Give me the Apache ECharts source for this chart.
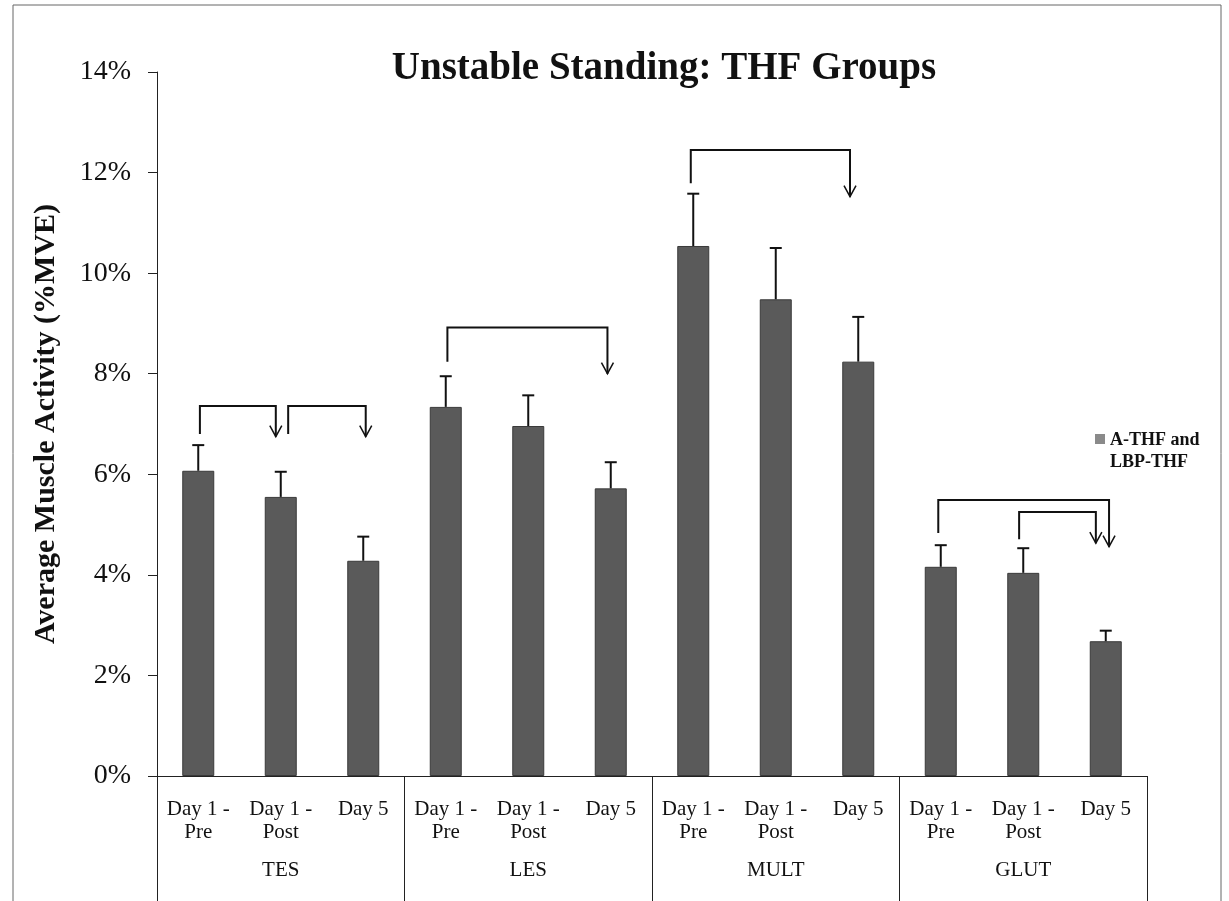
<!DOCTYPE html>
<html>
<head>
<meta charset="utf-8">
<script src="https://cdn.jsdelivr.net/npm/echarts@6/dist/echarts.min.js"></script>
<style>
html,body{margin:0;padding:0;background:#fff;}
#c{width:1229px;height:901px;}
</style>
</head>
<body>
<div id="c"></div>
<script>
// ---- data ----
const categories = ['Day 1 -\nPre','Day 1 -\nPost','Day 5','Day 1 -\nPre','Day 1 -\nPost','Day 5','Day 1 -\nPre','Day 1 -\nPost','Day 5','Day 1 -\nPre','Day 1 -\nPost','Day 5'];
const groups = ['TES','LES','MULT','GLUT'];
const values = [6.07,5.55,4.28, 7.34,6.96,5.72, 10.54,9.48,8.24, 4.16,4.04,2.68];
const errors = [0.51,0.50,0.48, 0.61,0.61,0.52, 1.04,1.02,0.89, 0.43,0.49,0.21];
const yTicks = [0,2,4,6,8,10,12,14];
// significance brackets: [fromCategory, toCategory, topLevel%, leftEnd%, arrowTip%]
const brackets = [
  [0.02, 0.94, 7.36, 6.80, 6.75],
  [1.09, 2.03, 7.36, 6.80, 6.75],
  [3.02, 4.96, 8.92, 8.24, 8.00],
  [5.97, 7.90, 12.45, 11.79, 11.52],
  [8.97, 11.04, 5.49, 4.83, 4.56],
  [9.95, 10.88, 5.25, 4.71, 4.63]
];
const seriesName = 'A-THF and\nLBP-THF';

const serif = '"Liberation Serif","Times New Roman",serif';
const chart = echarts.init(document.getElementById('c'));

const errData = values.map((v,i)=>[i, v, errors[i]]);

chart.setOption({
  animation:false,
  backgroundColor:'#fff',
  title:{
    text:'Unstable Standing: THF Groups',
    left:659, textAlign:'center', top:44,
    textStyle:{fontFamily:serif, fontWeight:'bold', fontSize:39, color:'#111'}
  },
  legend:{
    left:1090, top:424, orient:'vertical',
    itemWidth:10, itemHeight:34, itemGap:0,
    icon:'path://M0,0h10v10h-10z M0,33.97h0.03v0.03h-0.03z',
    data:[{name:seriesName, itemStyle:{color:'#8a8a8a', borderWidth:0, borderColor:'transparent'}}],
    itemStyle:{borderWidth:0},
    textStyle:{fontFamily:serif, fontWeight:'bold', fontSize:18, color:'#111', lineHeight:22},
    selectedMode:false
  },
  grid:{left:157, right:82, top:72, bottom:125, containLabel:false},
  xAxis:[
    {
      type:'category', data:categories, position:'bottom',
      axisLine:{show:true, onZero:false, lineStyle:{color:'#222', width:1}},
      axisTick:{show:false},
      axisLabel:{interval:0, margin:22, fontFamily:serif, fontSize:21, color:'#111', lineHeight:23}
    },
    {
      type:'category', data:groups, position:'bottom',
      axisLine:{show:false, onZero:false},
      axisTick:{show:true, length:130, lineStyle:{color:'#222', width:1}},
      axisLabel:{interval:0, margin:84, fontFamily:serif, fontSize:21, color:'#111'}
    },
    {
      type:'value', min:-0.5, max:11.5, show:false
    }
  ],
  yAxis:{
    type:'value', min:0, max:14, interval:2,
    name:'Average Muscle Activity (%MVE)', nameLocation:'middle', nameGap:96,
    nameTextStyle:{fontFamily:serif, fontWeight:'bold', fontSize:30, color:'#111'},
    axisLine:{show:true, onZero:false, lineStyle:{color:'#222', width:1}},
    axisTick:{show:true, length:9, lineStyle:{color:'#222'}},
    splitLine:{show:false},
    axisLabel:{margin:26, fontFamily:serif, fontSize:28, color:'#111',
      formatter:(v)=> yTicks.indexOf(v)>=0 ? v+'%' : ''}
  },
  series:[
    {
      name:seriesName, type:'bar', data:values, barWidth:32, xAxisIndex:0,
      itemStyle:{color:'#5a5a5a', borderColor:'#3a3a3a', borderWidth:1}
    },
    {
      type:'custom', xAxisIndex:0, data:errData, z:5, silent:true,
      encode:{x:0, y:[1,2]},
      renderItem:(params, api)=>{
        const i = api.value(0), v = api.value(1), e = api.value(2);
        const p0 = api.coord([i, v]);
        const p1 = api.coord([i, v+e]);
        const st = {stroke:'#111', lineWidth:2};
        return {type:'group', children:[
          {type:'line', shape:{x1:p0[0], y1:p0[1], x2:p1[0], y2:p1[1]}, style:st},
          {type:'line', shape:{x1:p1[0]-6, y1:p1[1], x2:p1[0]+6, y2:p1[1]}, style:st}
        ]};
      }
    },
    {
      type:'custom', xAxisIndex:2, data:brackets, z:6, silent:true,
      encode:{x:[0,1], y:[2,3,4]},
      renderItem:(params, api)=>{
        const a = api.value(0), b = api.value(1);
        const top = api.value(2), le = api.value(3), tip = api.value(4);
        const pA = api.coord([a, top]), pB = api.coord([b, top]);
        const yL = api.coord([a, le])[1], yT = api.coord([b, tip])[1];
        const st = {stroke:'#111', lineWidth:2, fill:null};
        return {type:'group', children:[
          {type:'polyline', shape:{points:[[pA[0], yL],[pA[0], pA[1]],[pB[0], pB[1]],[pB[0], yT]]}, style:st},
          {type:'polyline', shape:{points:[[pB[0]-6, yT-11],[pB[0], yT],[pB[0]+6, yT-11]]}, style:{stroke:'#111', lineWidth:1.5, fill:null}}
        ]};
      }
    }
  ],
  graphic:[
    {type:'rect', shape:{x:13, y:5, width:1208, height:900}, style:{fill:null, stroke:'#666', lineWidth:1}, silent:true}
  ]
});
</script>
</body>
</html>
